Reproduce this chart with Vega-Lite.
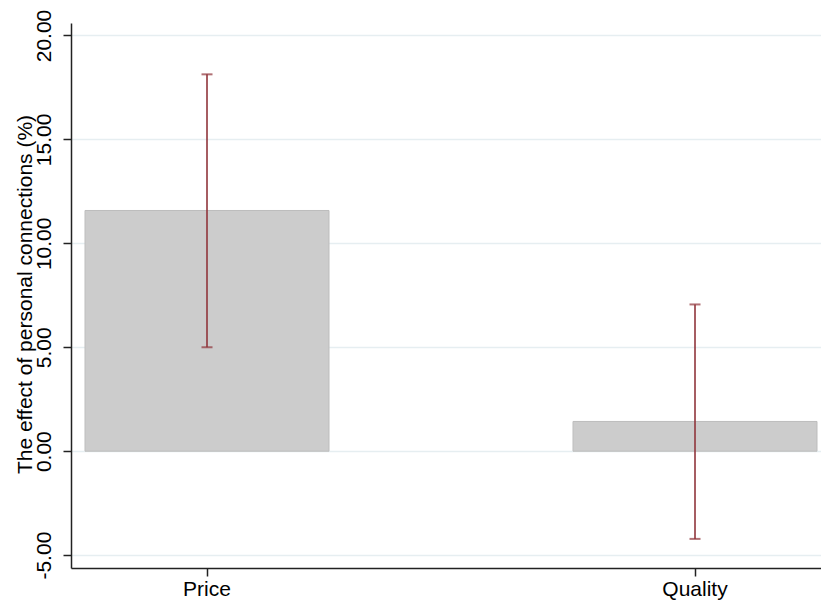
{
  "$schema": "https://vega.github.io/schema/vega-lite/v6.json",
  "width": 750,
  "height": 545,
  "autosize": "none",
  "padding": {"left": 71, "top": 23, "right": 0, "bottom": 32},
  "background": "white",
  "config": {
    "view": {"stroke": null},
    "font": "Liberation Sans",
    "axis": {
      "labelFont": "Liberation Sans",
      "titleFont": "Liberation Sans",
      "labelFontSize": 21,
      "titleFontSize": 21,
      "titleFontWeight": "normal",
      "labelColor": "#000000",
      "titleColor": "#000000",
      "domainColor": "#222222",
      "domainWidth": 1.5,
      "tickColor": "#222222",
      "tickWidth": 1.5,
      "tickSize": 8
    }
  },
  "data": {
    "values": [
      {"cat": "Price", "value": 11.58, "lo": 5.0, "hi": 18.13},
      {"cat": "Quality", "value": 1.43, "lo": -4.22, "hi": 7.06}
    ]
  },
  "encoding": {
    "x": {
      "field": "cat",
      "type": "nominal",
      "sort": null,
      "scale": {"paddingInner": 0.5, "paddingOuter": 0.01844, "align": 0.778},
      "axis": {
        "title": null,
        "labelAngle": 0,
        "labelPadding": 2,
        "grid": false
      }
    }
  },
  "layer": [
    {
      "mark": {"type": "bar", "color": "#cccccc", "stroke": "#bdbdbd", "strokeWidth": 1},
      "encoding": {
        "y": {
          "field": "value",
          "type": "quantitative",
          "scale": {"domain": [-5.62, 20.6], "nice": false, "zero": false},
          "axis": {
            "title": "The effect of personal connections (%)",
            "values": [-5, 0, 5, 10, 15, 20],
            "format": ".2f",
            "labelExpr": "replace(datum.label, '\u2212', '-')",
            "labelAngle": -90,
            "labelAlign": "center",
            "labelBaseline": "alphabetic",
            "labelPadding": 13,
            "grid": true,
            "gridColor": "#e6eef1",
            "gridWidth": 1.5,
            "titleAngle": -90,
            "titleAlign": "center",
            "titleBaseline": "alphabetic",
            "titleX": -40,
            "titleY": 271
          }
        }
      }
    },
    {
      "mark": {"type": "rule", "color": "#90353b", "strokeWidth": 1.6},
      "encoding": {
        "y": {"field": "lo", "type": "quantitative"},
        "y2": {"field": "hi"}
      }
    },
    {
      "mark": {"type": "tick", "color": "#90353b", "size": 11, "thickness": 2},
      "encoding": {"y": {"field": "lo", "type": "quantitative"}}
    },
    {
      "mark": {"type": "tick", "color": "#90353b", "size": 11, "thickness": 2},
      "encoding": {"y": {"field": "hi", "type": "quantitative"}}
    }
  ]
}
